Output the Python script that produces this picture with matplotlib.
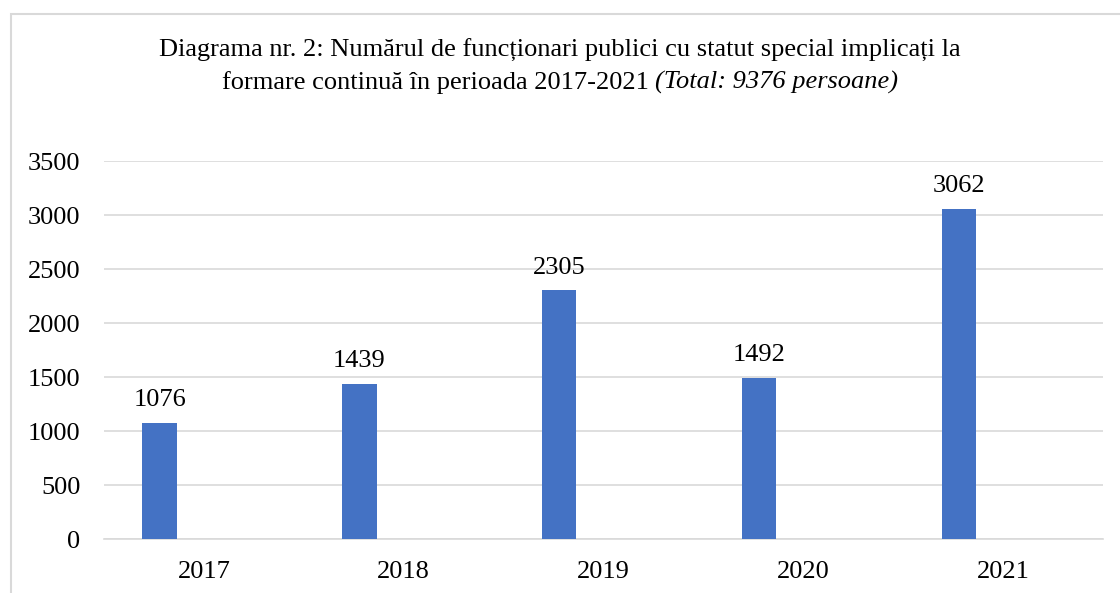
import matplotlib.pyplot as plt
from matplotlib.patches import Rectangle

# data
years = ['2017', '2018', '2019', '2020', '2021']
counts = [1076, 1439, 2305, 1492, 3062]
yticks = [0, 500, 1000, 1500, 2000, 2500, 3000, 3500]

plt.rcParams['font.family'] = ['Liberation Serif', 'DejaVu Serif']
FS = 19

fig = plt.figure(figsize=(11.2, 5.93), dpi=100)
ax = fig.add_axes([0.0929, 0.0906, 0.892, 0.6374])

# outer chart border (cut off on the right and bottom like the screenshot)
fig.patches.append(Rectangle((11 / 1120, -0.05), 1.2, 1 - 14 / 593 + 0.05,
                             transform=fig.transFigure, fill=False,
                             edgecolor='#d9d9d9', linewidth=1.5, zorder=0))

x = list(range(len(years)))
bx = [i - 0.222 for i in x]
bars = ax.bar(bx, counts, width=0.172, color='#4472C4', zorder=3)

for b, v in zip(bars, counts):
    ax.annotate(str(v), (b.get_x() + b.get_width() / 2, v),
                xytext=(0, 12), textcoords='offset points',
                ha='center', va='baseline', fontsize=FS)

ax.set_xlim(-0.5, len(years) - 0.5)
ax.set_ylim(0, 3500)
ax.set_yticks(yticks)
ax.set_xticks(x)
ax.set_xticklabels(years)
ax.tick_params(axis='both', length=0, labelsize=FS)
ax.tick_params(axis='y', pad=17)
ax.tick_params(axis='x', pad=16)
ax.grid(axis='y', color='#d9d9d9', linewidth=1.2, zorder=0)
for s in ['top', 'right', 'left']:
    ax.spines[s].set_visible(False)
ax.spines['bottom'].set_color('#d9d9d9')
ax.spines['bottom'].set_linewidth(1.2)

fig.text(0.5, 1 - 57 / 593,
         'Diagrama nr. 2: Numărul de funcționari publici cu statut special implicați la',
         ha='center', va='baseline', fontsize=FS)
t1 = fig.text(0.5, 1 - 89 / 593, 'formare continuă în perioada 2017-2021 ',
              ha='right', va='baseline', fontsize=FS)
t2 = fig.text(0.5, 1 - 89 / 593, '(Total: 9376 persoane)',
              ha='left', va='baseline', fontsize=FS, style='italic')

# centre the two-part second line
fig.canvas.draw()
r = fig.canvas.get_renderer()
w1 = t1.get_window_extent(r).width
w2 = t2.get_window_extent(r).width
shift = (w1 - w2) / 2 / 1120
t1.set_x(0.5 + shift)
t2.set_x(0.5 + shift)

fig.savefig('out.png', dpi=100)
